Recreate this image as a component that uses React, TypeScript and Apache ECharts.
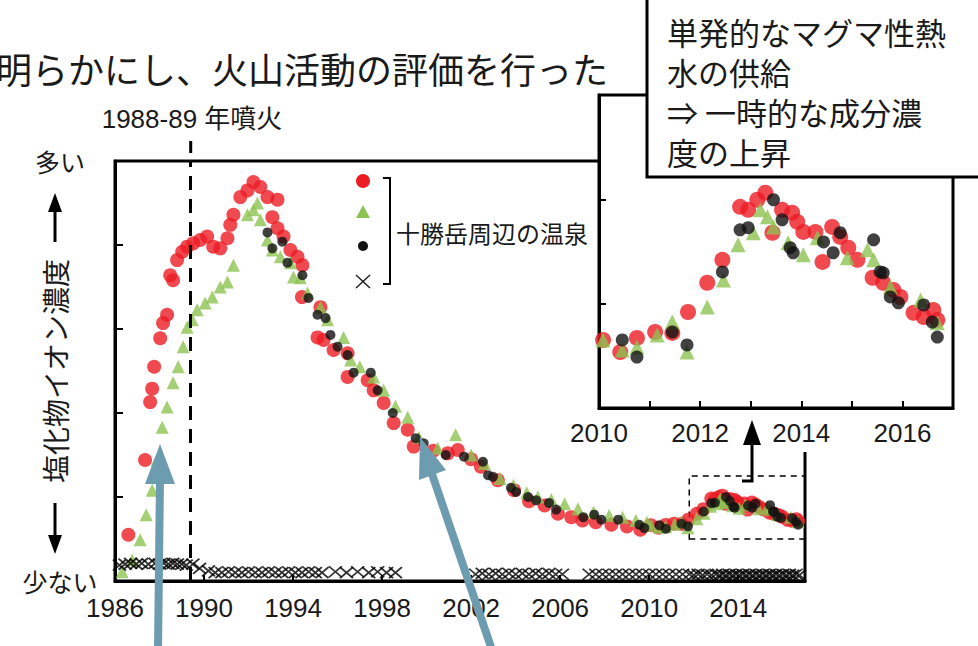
import React, { useEffect, useRef } from 'react';
import * as echarts from 'echarts';

// ---- data: [year, relative chloride concentration] ----
const redEarly: [number, number][] = [
  [1986.6, 0.55], [1987.35, 1.44], [1987.58, 2.13], [1987.67, 2.29], [1987.76, 2.55], [1988.03, 2.89],
  [1988.16, 3.07], [1988.34, 3.17], [1988.48, 3.64], [1988.61, 3.58], [1988.79, 3.82], [1989.02, 3.92],
  [1989.24, 3.98], [1989.51, 4.02], [1989.83, 4.06], [1990.14, 4.1], [1990.41, 3.98], [1990.73, 3.96],
  [1991.05, 4.08], [1991.18, 4.24], [1991.32, 4.36], [1991.63, 4.57], [1991.95, 4.65], [1992.22, 4.75],
  [1992.53, 4.69], [1992.85, 4.57], [1993.3, 4.54], [1993.07, 4.33], [1993.3, 4.2], [1993.57, 4.1],
  [1993.88, 3.94], [1994.2, 3.86], [1994.42, 3.76], [1994.4, 3.38], [1995.23, 3.26], [1995.1, 2.9],
  [1995.37, 2.87], [1995.82, 2.75], [1996.45, 2.71], [1996.45, 2.43], [1997.35, 2.39], [1997.62, 2.27],
  [1998.07, 2.12], [1998.52, 1.88], [1999.15, 1.8], [1999.42, 1.6], [2000.3, 1.55], [2000.95, 1.52],
  [2001.4, 1.56], [2002.0, 1.45], [2002.44, 1.36], [2003.2, 1.2], [2003.93, 1.08], [2004.6, 0.95],
  [2005.3, 0.9], [2005.9, 0.8], [2006.5, 0.76], [2007.0, 0.72], [2007.6, 0.7], [2008.3, 0.67],
  [2009.0, 0.65], [2009.6, 0.61],
];
const greenEarly: [number, number][] = [
  [1986.32, 0.11], [1986.77, 0.25], [1987.13, 0.49], [1987.4, 0.79], [1987.67, 1.08], [1987.89, 1.44],
  [1988.12, 1.83], [1988.34, 2.07], [1988.61, 2.36], [1988.84, 2.55], [1989.06, 2.79], [1989.24, 3.02],
  [1989.47, 3.11], [1989.69, 3.23], [1990.05, 3.31], [1990.37, 3.38], [1990.73, 3.5], [1991.05, 3.56],
  [1991.32, 3.76], [1991.95, 4.36], [1992.22, 4.42], [1992.4, 4.5], [1992.53, 4.3], [1992.85, 4.06],
  [1993.07, 3.94], [1993.43, 3.86], [1993.88, 3.79], [1994.02, 3.62], [1994.33, 3.61], [1994.65, 3.43],
  [1995.23, 3.26], [1995.55, 3.11], [1996.27, 2.9], [1996.59, 2.63], [1997.0, 2.55], [1997.62, 2.43],
  [1998.07, 2.27], [1998.6, 2.08], [1999.15, 1.95], [1999.65, 1.71], [2000.5, 1.58], [2001.3, 1.74],
  [2002.0, 1.5], [2002.6, 1.4], [2003.3, 1.22], [2003.9, 1.14], [2004.5, 1.05], [2005.0, 1.0],
  [2005.6, 0.97], [2006.2, 0.92], [2006.8, 0.86], [2007.5, 0.82], [2008.2, 0.78], [2008.8, 0.76],
  [2009.4, 0.72], [2009.9, 0.7],
];
const blackEarly: [number, number][] = [
  [1992.85, 4.15], [1993.07, 3.96], [1993.52, 4.04], [1993.75, 3.79], [1994.42, 3.64], [1994.69, 3.37],
  [1995.1, 3.17], [1995.46, 3.13], [1995.68, 2.93], [1996.0, 2.79], [1996.45, 2.69], [1996.72, 2.48],
  [1997.49, 2.48], [1997.8, 2.27], [1998.48, 2.0], [1999.51, 1.7], [1999.87, 1.64], [2000.86, 1.5],
  [2001.68, 1.48], [2002.53, 1.42], [2002.76, 1.26], [2002.98, 1.24], [2003.79, 1.11], [2004.02, 1.06],
  [2004.56, 1.0], [2004.92, 0.96], [2005.5, 0.93], [2005.82, 0.85], [2007.04, 0.76], [2007.53, 0.79],
  [2007.85, 0.73], [2008.61, 0.73], [2009.56, 0.67], [2009.78, 0.63],
];
// 2010-2017 (shown in the inset and in the main chart)
const redRecent: [number, number][] = [
  [2010.08, 0.663], [2010.42, 0.634], [2010.75, 0.668], [2011.11, 0.682], [2011.45, 0.68], [2011.76, 0.73],
  [2012.14, 0.8], [2012.44, 0.855], [2012.79, 0.982], [2012.95, 0.975], [2013.13, 0.999], [2013.29, 1.016],
  [2013.43, 0.92], [2013.62, 0.975], [2013.82, 0.968], [2013.92, 0.946], [2014.04, 0.922], [2014.28, 0.922],
  [2014.42, 0.85], [2014.61, 0.934], [2014.77, 0.91], [2014.93, 0.884], [2015.11, 0.855], [2015.41, 0.812],
  [2015.62, 0.8], [2015.82, 0.783], [2015.96, 0.766], [2016.22, 0.728], [2016.42, 0.718], [2016.61, 0.735],
  [2016.69, 0.711],
];
const greenRecent: [number, number][] = [
  [2010.08, 0.663], [2010.46, 0.639], [2010.75, 0.646], [2011.15, 0.675], [2011.45, 0.706], [2011.74, 0.634],
  [2012.14, 0.742], [2012.46, 0.807], [2012.75, 0.891], [2013.05, 0.92], [2013.19, 0.975], [2013.33, 0.958],
  [2013.45, 0.934], [2013.74, 0.896], [2014.04, 0.867], [2014.32, 0.908], [2014.91, 0.86], [2015.31, 0.879],
  [2015.43, 0.855], [2015.76, 0.79], [2016.36, 0.759], [2016.69, 0.704],
];
const blackRecent: [number, number][] = [
  [2010.46, 0.663], [2010.75, 0.622], [2011.45, 0.682], [2011.74, 0.651], [2012.44, 0.826], [2012.79, 0.927],
  [2012.95, 0.932], [2013.45, 0.999], [2013.62, 0.951], [2013.78, 0.884], [2013.84, 0.872], [2014.44, 0.898],
  [2014.63, 0.872], [2014.77, 0.92], [2015.43, 0.903], [2015.56, 0.826], [2015.62, 0.824], [2015.76, 0.766],
  [2015.92, 0.752], [2016.42, 0.747], [2016.59, 0.706], [2016.69, 0.67],
];
const crossPoints: [number, number][] = [
  [1986.2, 0.19], [1986.45, 0.2], [1986.7, 0.21], [1986.95, 0.2], [1987.2, 0.21], [1987.5, 0.2],
  [1987.8, 0.21], [1988.0, 0.2], [1988.2, 0.21], [1988.4, 0.2], [1988.6, 0.21], [1988.8, 0.2],
  [1989.0, 0.2], [1989.2, 0.19], [1989.5, 0.2], [1989.8, 0.15],
  [1990.2, 0.12], [1990.5, 0.1], [1990.8, 0.1], [1991.1, 0.11], [1991.4, 0.1], [1991.7, 0.1],
  [1992.0, 0.11], [1992.3, 0.1], [1992.6, 0.1], [1992.9, 0.11], [1993.2, 0.1], [1993.5, 0.1],
  [1993.8, 0.11], [1994.1, 0.1], [1994.4, 0.1], [1994.7, 0.11], [1995.0, 0.1], [1995.3, 0.1],
  [1995.9, 0.11], [1996.4, 0.1], [1996.9, 0.11], [1997.4, 0.1], [1997.8, 0.11], [1998.2, 0.1], [1998.6, 0.1],
  [2002.2, 0.08], [2002.5, 0.09], [2002.8, 0.08], [2003.1, 0.09], [2003.4, 0.08], [2003.7, 0.09],
  [2004.0, 0.08], [2004.3, 0.09], [2004.6, 0.08], [2004.9, 0.09], [2005.2, 0.08], [2005.5, 0.09],
  [2005.8, 0.08], [2006.1, 0.08],
  [2007.3, 0.08], [2007.6, 0.08], [2007.9, 0.08], [2008.2, 0.08], [2008.5, 0.08], [2008.8, 0.08],
  [2009.1, 0.08], [2009.4, 0.08], [2009.7, 0.08], [2010.0, 0.08], [2010.3, 0.08], [2010.6, 0.08],
  [2010.9, 0.08], [2011.2, 0.08], [2011.5, 0.08], [2011.8, 0.08], [2012.0, 0.07], [2012.2, 0.08],
  [2012.4, 0.07], [2012.6, 0.08], [2012.8, 0.07], [2013.0, 0.08], [2013.15, 0.07], [2013.3, 0.08],
  [2013.45, 0.07], [2013.6, 0.08], [2013.75, 0.07], [2013.9, 0.08], [2014.05, 0.07], [2014.2, 0.08],
  [2014.35, 0.07], [2014.5, 0.08], [2014.65, 0.07], [2014.8, 0.08], [2014.95, 0.07], [2015.1, 0.08],
  [2015.25, 0.07], [2015.4, 0.08], [2015.55, 0.07], [2015.7, 0.08], [2015.85, 0.07], [2016.0, 0.08],
  [2016.15, 0.07], [2016.3, 0.08], [2016.45, 0.07], [2016.6, 0.08], [2016.75, 0.07],
];
const eruptionYear = 1989.4;
const zoomBox = { x0: 2011.8, x1: 2017, y0: 0.5, y1: 1.25 };
const mainXTicks = { min: 1986, max: 2017, step: 4 };
const insetXTicks = { min: 2010, max: 2017, step: 1 };

const JP = '"Noto Sans CJK JP", "Noto Sans", sans-serif';
const NUM = '"Liberation Sans", Arial, "Noto Sans CJK JP", sans-serif';
const RED = '#ec1c24';
const GREEN = '#8dc351';
const BLACK = '#111111';
const BLUE = '#6d9cb1';
const INK = '#1a1a1a';

const crossSymbol = 'path://M0,0L10,10M10,0L0,10';

export default function App() {
  const ref = useRef<HTMLDivElement>(null);
  useEffect(() => {
    const chart = echarts.init(ref.current!, null, { renderer: 'svg' });
    const axisBase = {
      splitLine: { show: false },
      axisLine: { show: true, lineStyle: { color: '#000', width: 3 } },
    };
    const option: any = {
      animation: false,
      backgroundColor: '#ffffff',
      grid: [
        { left: 115, top: 161, right: 173, bottom: 65, show: true, borderColor: '#000', borderWidth: 3, backgroundColor: 'rgba(0,0,0,0)', containLabel: false, outerBoundsMode: 'none' },
        { left: 599, top: 95, right: 25, bottom: 238, show: true, borderColor: '#000', borderWidth: 3, backgroundColor: '#fff', z: 10, containLabel: false, outerBoundsMode: 'none' },
      ],
      xAxis: [
        {
          ...axisBase, type: 'value', gridIndex: 0, min: mainXTicks.min, max: mainXTicks.max, interval: mainXTicks.step,
          axisTick: { show: true, inside: true, length: 6, lineStyle: { color: '#000', width: 2 } },
          axisLabel: {
            formatter: (v: number) => ((v - mainXTicks.min) % mainXTicks.step === 0 ? String(v) : ''),
            fontSize: 26, color: INK, fontFamily: NUM, margin: 14, showMaxLabel: false,
          },
        },
        {
          ...axisBase, type: 'value', gridIndex: 1, min: insetXTicks.min, max: insetXTicks.max, interval: insetXTicks.step, z: 11,
          axisTick: { show: true, inside: true, length: 7, lineStyle: { color: '#000', width: 2 } },
          axisLabel: {
            formatter: (v: number) => (v % 2 === 0 && v < insetXTicks.max ? String(v) : ''),
            fontSize: 26, color: INK, fontFamily: NUM, margin: 12,
          },
        },
      ],
      yAxis: [
        {
          ...axisBase, type: 'value', gridIndex: 0, min: 0, max: 5, interval: 1,
          axisTick: { show: true, inside: true, length: 8, lineStyle: { color: '#000', width: 2 } },
          axisLabel: {
            formatter: (v: number) => (v === 5 ? '多い' : v === 0 ? '少ない' : ''),
            fontSize: 25, color: INK, fontFamily: JP, margin: 55, align: 'center',
          },
          name: '塩化物イオン濃度', nameLocation: 'middle', nameRotate: 90, nameGap: 46, nameMoveOverlap: false,
          nameTextStyle: { fontSize: 28, fontFamily: JP, color: INK },
        },
        {
          ...axisBase, type: 'value', gridIndex: 1, min: zoomBox.y0, max: zoomBox.y1, interval: 0.25, z: 11,
          axisTick: { show: true, inside: true, length: 7, lineStyle: { color: '#000', width: 2 } },
          axisLabel: { show: false },
        },
      ],
      series: [
        { type: 'scatter', xAxisIndex: 0, yAxisIndex: 0, symbol: 'circle', symbolSize: 14, itemStyle: { color: RED }, data: [...redEarly, ...redRecent] },
        { type: 'scatter', xAxisIndex: 0, yAxisIndex: 0, symbol: 'triangle', symbolSize: 13, itemStyle: { color: GREEN }, data: [...greenEarly, ...greenRecent] },
        { type: 'scatter', xAxisIndex: 0, yAxisIndex: 0, symbol: 'circle', symbolSize: 10, itemStyle: { color: BLACK }, data: [...blackEarly, ...blackRecent] },
        {
          type: 'scatter', xAxisIndex: 0, yAxisIndex: 0, symbol: crossSymbol, symbolSize: [13, 11],
          itemStyle: { color: 'rgba(0,0,0,0)', borderColor: '#000', borderWidth: 1.8 }, data: crossPoints,
          markLine: {
            silent: true, symbol: 'none', label: { show: false },
            lineStyle: { color: '#000', width: 3, type: [14, 9] },
            data: [{ xAxis: eruptionYear }],
          },
          markArea: {
            silent: true,
            itemStyle: { color: 'rgba(0,0,0,0)', borderColor: '#000', borderWidth: 1.5, borderType: [6, 5] },
            data: [[{ xAxis: zoomBox.x0, yAxis: zoomBox.y0 }, { xAxis: zoomBox.x1, yAxis: zoomBox.y1 }]],
          },
        },
        { type: 'scatter', xAxisIndex: 1, yAxisIndex: 1, z: 12, symbol: 'circle', symbolSize: 16, itemStyle: { color: RED }, data: redRecent },
        { type: 'scatter', xAxisIndex: 1, yAxisIndex: 1, z: 12, symbol: 'triangle', symbolSize: 15, itemStyle: { color: GREEN }, data: greenRecent },
        { type: 'scatter', xAxisIndex: 1, yAxisIndex: 1, z: 12, symbol: 'circle', symbolSize: 13, itemStyle: { color: BLACK }, data: blackRecent },
      ],
      graphic: [
        // white backing of the inset (hides main frame behind it)
        { type: 'rect', z: 9, silent: true, shape: { x: 599, y: 92, width: 366, height: 360 }, style: { fill: '#fff' } },
        // title line (cut at the left edge, as in the source slide)
        { type: 'text', z: 100, x: -4, y: 68, style: { text: '明らかにし、火山活動の評価を行った', fontSize: 36, fontFamily: JP, fill: INK, verticalAlign: 'middle' } },
        // callout box
        { type: 'rect', z: 100, shape: { x: 647, y: -3, width: 340, height: 180 }, style: { fill: '#fff', stroke: '#000', lineWidth: 3 } },
        {
          type: 'text', z: 101, x: 667, y: 11,
          style: { text: '単発的なマグマ性熱\n水の供給\n⇒ 一時的な成分濃\n度の上昇', fontSize: 31, lineHeight: 40, fontFamily: JP, fill: INK, verticalAlign: 'top' },
        },
        // eruption annotation
        { type: 'text', z: 100, x: 192, y: 119, style: { text: '1988-89 年噴火', fontSize: 26, fontFamily: NUM, fill: INK, align: 'center', verticalAlign: 'middle' } },
        { type: 'line', z: 100, shape: { x1: 190.7, y1: 141, x2: 190.7, y2: 161 }, style: { stroke: '#000', lineWidth: 3, lineDash: [12, 9] } },
        // legend
        { type: 'circle', z: 100, shape: { cx: 363, cy: 181, r: 7 }, style: { fill: RED } },
        { type: 'polygon', z: 100, shape: { points: [[363, 205], [356, 218], [370, 218]] }, style: { fill: GREEN } },
        { type: 'circle', z: 100, shape: { cx: 363, cy: 246, r: 5 }, style: { fill: BLACK } },
        { type: 'line', z: 100, shape: { x1: 356, y1: 275, x2: 370, y2: 288 }, style: { stroke: '#222', lineWidth: 1.5 } },
        { type: 'line', z: 100, shape: { x1: 370, y1: 275, x2: 356, y2: 288 }, style: { stroke: '#222', lineWidth: 1.5 } },
        { type: 'polyline', z: 100, shape: { points: [[383, 178], [390, 178], [390, 284], [383, 284]] }, style: { stroke: '#000', lineWidth: 2, fill: 'none' } },
        { type: 'text', z: 100, x: 396, y: 232, style: { text: '十勝岳周辺の温泉', fontSize: 24, fontFamily: JP, fill: INK, verticalAlign: 'middle' } },
        // y-name arrows
        { type: 'line', z: 100, shape: { x1: 55, y1: 242, x2: 55, y2: 208 }, style: { stroke: '#000', lineWidth: 3 } },
        { type: 'polygon', z: 100, shape: { points: [[55, 193], [48, 212], [62, 212]] }, style: { fill: '#000' } },
        { type: 'line', z: 100, shape: { x1: 55, y1: 503, x2: 55, y2: 538 }, style: { stroke: '#000', lineWidth: 3 } },
        { type: 'polygon', z: 100, shape: { points: [[55, 554], [48, 535], [62, 535]] }, style: { fill: '#000' } },
        // arrow from box to inset
        { type: 'polyline', z: 100, shape: { points: [[742, 481], [752, 481], [752, 440]] }, style: { stroke: '#000', lineWidth: 3, fill: 'none' } },
        { type: 'polygon', z: 100, shape: { points: [[752, 420], [743, 445], [761, 445]] }, style: { fill: '#000' } },
        // blue arrows
        { type: 'line', z: 100, shape: { x1: 158, y1: 650, x2: 160, y2: 478 }, style: { stroke: BLUE, lineWidth: 8 } },
        { type: 'polygon', z: 100, shape: { points: [[160, 444], [145, 484], [175, 484]] }, style: { fill: BLUE } },
        { type: 'line', z: 100, shape: { x1: 492, y1: 650, x2: 432, y2: 474 }, style: { stroke: BLUE, lineWidth: 8 } },
        { type: 'polygon', z: 100, shape: { points: [[420, 437], [446, 470], [419, 480]] }, style: { fill: BLUE } },
      ],
    };
    chart.setOption(option);
    return () => chart.dispose();
  }, []);
  return <div ref={ref} style={{ position: 'absolute', left: 0, top: 0, width: 978, height: 646 }} />;
}
